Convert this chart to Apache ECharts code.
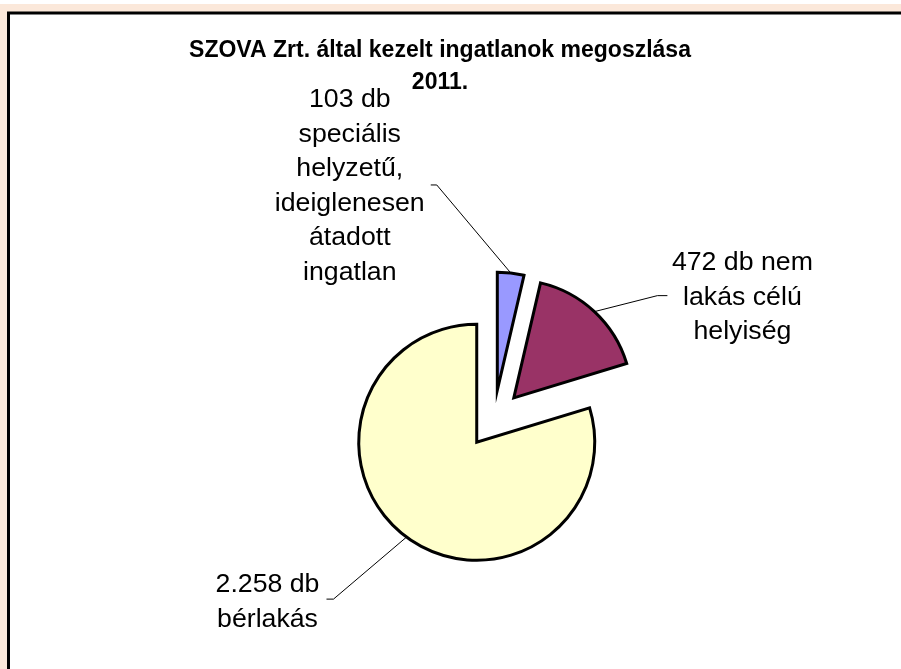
<!DOCTYPE html>
<html>
<head>
<meta charset="utf-8">
<script src="https://cdn.jsdelivr.net/npm/echarts@6/dist/echarts.min.js"></script>
<style>
  html, body { margin: 0; padding: 0; background: #ffffff; }
  #chart { width: 901px; height: 669px; }
</style>
</head>
<body>
<div id="chart"></div>
<script>
// ---- data ----
var categories = ['speciális helyzetű, ideiglenesen átadott ingatlan', 'nem lakás célú helyiség', 'bérlakás'];
var values = [103, 472, 2258];
var labelSuffix = ['\nspeciális\nhelyzetű,\nideiglenesen\nátadott\ningatlan', ' nem\nlakás célú\nhelyiség', '\nbérlakás'];
var colors = ['#9999FF', '#993366', '#FFFFCC'];
var titleText = 'SZOVA Zrt. által kezelt ingatlanok megoszlása\n2011.';

function fmt(v) {
  return String(v).replace(/\B(?=(\d{3})+(?!\d))/g, '.');
}

// label placement relative to the leader start point (outer arc, bisector) of each slice
var labelOffsets = [
  { elbow: [-74, -88], end: [-80, -88], text: [-161, -87] },
  { elbow: [63, -16], end: [73, -16], text: [148, -14] },
  { elbow: [-73, 62], end: [-80, 62], text: [-139, 65] }
];
var explode = 29;
var labelFont = 'normal 26.7px "Liberation Sans", Arial, sans-serif';

var chart = echarts.init(document.getElementById('chart'), null, { renderer: 'canvas' });

var data = values.map(function (v, i) {
  return { name: categories[i], value: v, selected: true, itemStyle: { color: colors[i] } };
});

chart.setOption({
  backgroundColor: '#ffffff',
  animation: false,
  graphic: [
    { id: 'bg', type: 'rect', z: -10, silent: true, shape: { x: 0, y: 4, width: 901, height: 700 }, style: { fill: '#FBE8DA' } },
    { id: 'frame', type: 'rect', z: -9, silent: true, shape: { x: 8.5, y: 13, width: 1000, height: 1000 }, style: { fill: '#ffffff', stroke: '#000000', lineWidth: 3 } }
  ],
  title: {
    text: titleText,
    left: 435,
    top: 30,
    textAlign: 'center',
    textStyle: {
      fontFamily: 'Liberation Sans, Arial, sans-serif',
      fontSize: 23,
      fontWeight: 'bold',
      lineHeight: 31.5,
      color: '#000000'
    }
  },
  series: [{
    type: 'pie',
    center: [494, 419],
    radius: [0, 118],
    startAngle: 90,
    clockwise: true,
    selectedMode: 'multiple',
    selectedOffset: explode,
    silent: true,
    emphasis: { disabled: true },
    itemStyle: { borderColor: '#000000', borderWidth: 3, borderJoin: 'miter' },
    label: { show: false },
    labelLine: { show: false },
    data: data
  }]
});

// labels and leader lines placed from the pie's own computed layout
var seriesData = chart.getModel().getSeriesByIndex(0).getData();
var extra = [];
values.forEach(function (v, i) {
  var lay = seriesData.getItemLayout(i);
  var mid = (lay.startAngle + lay.endAngle) / 2;
  var d = lay.r + explode;
  var p0 = [lay.cx + d * Math.cos(mid), lay.cy + d * Math.sin(mid)];
  var o = labelOffsets[i];
  extra.push({
    id: 'line' + i, type: 'polyline', silent: true, z: 20,
    shape: { points: [p0, [p0[0] + o.elbow[0], p0[1] + o.elbow[1]], [p0[0] + o.end[0], p0[1] + o.end[1]]] },
    style: { stroke: '#000000', lineWidth: 1, fill: null }
  });
  extra.push({
    id: 'label' + i, type: 'text', silent: true, z: 20,
    style: {
      text: fmt(v) + ' db' + labelSuffix[i],
      x: p0[0] + o.text[0], y: p0[1] + o.text[1],
      font: labelFont, fill: '#000000',
      textAlign: 'center', textVerticalAlign: 'middle',
      align: 'center', verticalAlign: 'middle',
      lineHeight: 34.5
    }
  });
});
chart.setOption({ graphic: extra });
</script>
</body>
</html>
